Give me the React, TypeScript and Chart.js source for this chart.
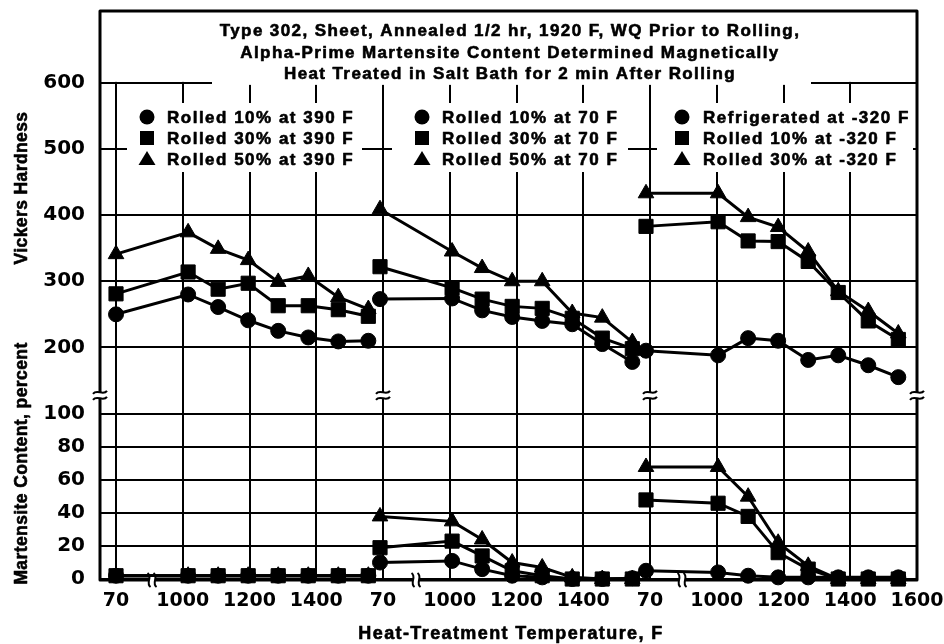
import React, { useEffect, useRef } from "react";
import { Chart, registerables } from "chart.js";

Chart.register(...registerables);

// ---------------- data ----------------
const temps = [70, 1000, 1100, 1200, 1300, 1400, 1500, 1600];

// Vickers hardness
const hvRolled10at390 = [250, 280, 261, 241, 225, 215, 209, 210];
const hvRolled30at390 = [281, 314, 288, 297, 263, 263, 257, 247];
const hvRolled50at390 = [341, 374, 349, 332, 299, 308, 276, 258];
const hvRolled10at70 = [273, 274, 256, 246, 240, 235, 205, 178];
const hvRolled30at70 = [322, 290, 273, 262, 259, 244, 214, 198];
const hvRolled50at70 = [409, 345, 320, 300, 300, 252, 245, 208];
const hvRefrigerated320 = [195, 188, 214, 210, 181, 188, 173, 155];
const hvRolled10at320 = [383, 390, 361, 360, 330, 283, 240, 212];
const hvRolled30at320 = [433, 433, 397, 382, 345, 285, 255, 221];

// Martensite content, percent
const msRolled10at390 = [2, 2, 2, 2, 2, 2, 2, 2];
const msRolled30at390 = [2, 2, 2, 2, 2, 2, 2, 2];
const msRolled50at390 = [2, 2, 2, 2, 2, 2, 2, 2];
const msRolled10at70 = [10, 11, 6, 2, 1, 0, 0, 0.5];
const msRolled30at70 = [19, 23, 14, 5, 2, 0, 0, 0];
const msRolled50at70 = [38, 35, 24, 10, 7, 1, 0, 0];
const msRefrigerated320 = [5, 4, 2, 1, 1, 1, 1, 1];
const msRolled10at320 = [48, 46, 38, 16, 6, 0, 0, 0];
const msRolled30at320 = [68, 68, 50, 22, 8, 0, 0, 0];

const xTickLabels = ["70", "1000", "1200", "1400", "70", "1000", "1200", "1400", "70", "1000", "1200", "1400", "1600"];
const hvTicks = [200, 300, 400, 500, 600];
const msTicks = [0, 20, 40, 60, 80, 100];

const titleLines = [
  "Type 302, Sheet, Annealed 1/2 hr, 1920 F, WQ Prior to Rolling,",
  "Alpha-Prime Martensite Content Determined Magnetically",
  "Heat Treated in Salt Bath for 2 min After Rolling",
];
const legendLabels = [
  ["Rolled 10% at 390 F", "Rolled 30% at 390 F", "Rolled 50% at 390 F"],
  ["Rolled 10% at 70 F", "Rolled 30% at 70 F", "Rolled 50% at 70 F"],
  ["Refrigerated at -320 F", "Rolled 10% at -320 F", "Rolled 30% at -320 F"],
];

// ---------------- layout helpers ----------------
const GROUP_START = [0, 3.955, 7.94];
const pos = (g: number, t: number) => GROUP_START[g] + (t === 70 ? 0 : 1.08 + (t - 1000) * 0.0045);

const groups = [
  { hv: [hvRolled10at390, hvRolled30at390, hvRolled50at390], ms: [msRolled10at390, msRolled30at390, msRolled50at390] },
  { hv: [hvRolled10at70, hvRolled30at70, hvRolled50at70], ms: [msRolled10at70, msRolled30at70, msRolled50at70] },
  { hv: [hvRefrigerated320, hvRolled10at320, hvRolled30at320], ms: [msRefrigerated320, msRolled10at320, msRolled30at320] },
];
const pointStyles = ["circle", "rect", "triangle"];
const pointRadii = [7.5, 10, 9];
const drawOrder = [2, 0, 1];

const legendLayout = [
  { markerX: 147, textX: 167, box: [127, 362] },
  { markerX: 422, textX: 442, box: [392, 628] },
  { markerX: 682, textX: 703, box: [657, 913] },
];
const legendRows = [117, 138, 159];

function drawMarker(ctx: CanvasRenderingContext2D, style: string, x: number, y: number) {
  ctx.beginPath();
  if (style === "circle") {
    ctx.arc(x, y, 7.5, 0, Math.PI * 2);
  } else if (style === "rect") {
    ctx.rect(x - 7, y - 7, 14, 14);
  } else {
    ctx.moveTo(x, y - 8);
    ctx.lineTo(x - 8.5, y + 6);
    ctx.lineTo(x + 8.5, y + 6);
    ctx.closePath();
  }
  ctx.fill();
}

function boldText(ctx: CanvasRenderingContext2D, text: string, x: number, y: number) {
  ctx.fillText(text, x, y);
  ctx.strokeText(text, x, y);
}

function vBreak(ctx: CanvasRenderingContext2D, x: number, y: number) {
  ctx.fillStyle = "#fff";
  ctx.fillRect(x - 3, y - 3, 6, 6);
  ctx.strokeStyle = "#000";
  ctx.lineWidth = 2;
  for (const dy of [-3, 3]) {
    ctx.beginPath();
    ctx.moveTo(x - 7, y + dy + 1.5);
    ctx.bezierCurveTo(x - 3, y + dy - 4, x + 3, y + dy + 4, x + 7, y + dy - 1.5);
    ctx.stroke();
  }
}

function hBreak(ctx: CanvasRenderingContext2D, x: number, y: number) {
  ctx.fillStyle = "#fff";
  ctx.fillRect(x - 3, y - 3, 6, 6);
  ctx.strokeStyle = "#000";
  ctx.lineWidth = 2;
  for (const dx of [-3, 3]) {
    ctx.beginPath();
    ctx.moveTo(x + dx - 1.5, y - 7);
    ctx.bezierCurveTo(x + dx + 4, y - 3, x + dx - 4, y + 3, x + dx + 1.5, y + 7);
    ctx.stroke();
  }
}

const decor = {
  id: "decor",
  beforeDatasetsDraw(chart: any) {
    const { ctx, chartArea: a, scales } = chart;
    const y600 = scales.yH.getPixelForValue(600);
    ctx.save();
    ctx.fillStyle = "#fff";
    ctx.fillRect(a.left, a.top, a.right - a.left, y600 - 1 - a.top);
    ctx.fillRect(212, a.top, 811 - 212, y600 + 2 - a.top);
    for (const l of legendLayout) {
      ctx.fillRect(l.box[0], 103, l.box[1] - l.box[0], 172 - 103);
    }
    ctx.restore();
  },
  afterDatasetsDraw(chart: any) {
    const { ctx, chartArea: a, scales } = chart;
    const x = scales.x;
    const yH = scales.yH;
    ctx.save();
    ctx.fillStyle = "#000";
    ctx.strokeStyle = "#000";
    ctx.lineWidth = 0.6;
    ctx.lineJoin = "round";
    ctx.textBaseline = "alphabetic";
    // title
    ctx.font = 'bold 17px "Liberation Sans"';
    (ctx as any).letterSpacing = "1.4px";
    ctx.textAlign = "center";
    const titleBase = [35.5, 57.5, 79];
    titleLines.forEach((t, i) => boldText(ctx, t, 510, titleBase[i]));
    // legends
    (ctx as any).letterSpacing = "1.5px";
    ctx.textAlign = "left";
    legendLabels.forEach((labels, gi) => {
      const l = legendLayout[gi];
      labels.forEach((lab, ri) => {
        const yc = legendRows[ri];
        drawMarker(ctx, pointStyles[ri], l.markerX, yc);
        ctx.font = 'bold 17px "Liberation Sans"';
        boldText(ctx, lab, l.textX, yc + 6);
      });
    });
    // axis titles
    (ctx as any).letterSpacing = "1.4px";
    ctx.font = 'bold 18px "Liberation Sans"';
    ctx.textAlign = "center";
    boldText(ctx, "Heat-Treatment Temperature, F", 511, 639);
    (ctx as any).letterSpacing = "0.4px";
    ctx.font = 'bold 17.5px "Liberation Sans"';
    ctx.save();
    ctx.translate(27, 188);
    ctx.rotate(-Math.PI / 2);
    boldText(ctx, "Vickers Hardness", 0, 0);
    ctx.restore();
    ctx.save();
    ctx.translate(27, 463.5);
    ctx.rotate(-Math.PI / 2);
    boldText(ctx, "Martensite Content, percent", 0, 0);
    ctx.restore();
    (ctx as any).letterSpacing = "0px";
    // frame
    ctx.strokeStyle = "#000";
    ctx.lineWidth = 3;
    ctx.strokeRect(a.left, a.top, a.right - a.left, a.bottom - a.top);
    // breaks
    const yb = yH.bottom;
    [a.left, x.getPixelForValue(4), x.getPixelForValue(8), a.right].forEach((px: number) => vBreak(ctx, px, yb));
    [0, 1, 2].forEach((g) => {
      const px = (x.getPixelForValue(pos(g, 70)) + x.getPixelForValue(pos(g, 1000))) / 2;
      hBreak(ctx, px, a.bottom);
    });
    ctx.restore();
  },
};

const zeroPad = (s: any) => {
  s.paddingLeft = 0;
  s.paddingRight = 0;
  s.paddingTop = 0;
  s.paddingBottom = 0;
};

export default function App() {
  const ref = useRef<HTMLCanvasElement | null>(null);
  useEffect(() => {
    if (!ref.current) return;
    const datasets: any[] = [];
    for (const axis of ["hv", "ms"]) {
      groups.forEach((grp: any, g) => {
        drawOrder.forEach((s) => {
          const arr = grp[axis][s];
          datasets.push({
            data: temps.map((t, i) => ({ x: pos(g, t), y: arr[i] })),
            yAxisID: axis === "hv" ? "yH" : "yM",
            borderColor: "#000",
            backgroundColor: "#000",
            borderWidth: 3,
            pointStyle: pointStyles[s],
            pointRadius: pointRadii[s],
            pointBorderWidth: 1,
            pointBackgroundColor: "#000",
            pointBorderColor: "#000",
            showLine: true,
            tension: 0,
            clip: false,
          });
        });
      });
    }
    const tickFont = { family: '"DejaVu Sans"', size: 20, weight: "bold" as const };
    const grid = { color: "#000", lineWidth: 2, drawTicks: false };
    const chart = new Chart(ref.current, {
      type: "line",
      data: { datasets },
      options: {
        animation: false,
        responsive: false,
        devicePixelRatio: 1,
        layout: { padding: { top: 10, right: 27, left: 0, bottom: 0 } },
        plugins: { legend: { display: false }, tooltip: { enabled: false }, title: { display: false } },
        scales: {
          x: {
            type: "linear",
            min: -0.24,
            max: 12,
            afterBuildTicks: (s: any) => {
              s.ticks = xTickLabels.map((_, i) => ({ value: i }));
            },
            afterFit: (s: any) => {
              s.height = 64;
              zeroPad(s);
            },
            ticks: {
              autoSkip: false,
              maxRotation: 0,
              padding: 10,
              color: "#000",
              font: { ...tickFont, size: 19 },
              callback: (_v: any, i: number) => xTickLabels[i],
            },
            grid,
            border: { display: false },
          },
          yH: {
            type: "linear",
            position: "left",
            stack: "v",
            stackWeight: 385,
            weight: 2,
            min: 127.5,
            max: 708.7,
            afterBuildTicks: (s: any) => {
              s.ticks = hvTicks.map((v) => ({ value: v }));
            },
            afterFit: (s: any) => {
              s.width = 100;
              zeroPad(s);
            },
            ticks: { autoSkip: false, padding: 15, color: "#000", font: tickFont },
            grid,
            border: { display: false },
          },
          yM: {
            type: "linear",
            position: "left",
            stack: "v",
            stackWeight: 185,
            weight: 1,
            min: -0.6,
            max: 111.5,
            afterBuildTicks: (s: any) => {
              s.ticks = msTicks.map((v) => ({ value: v }));
            },
            afterFit: (s: any) => {
              s.width = 100;
              zeroPad(s);
            },
            ticks: { autoSkip: false, padding: 15, color: "#000", font: tickFont },
            grid,
            border: { display: false },
          },
        },
      } as any,
      plugins: [decor],
    });
    return () => chart.destroy();
  }, []);
  return (
    <div style={{ position: "absolute", left: 0, top: 0, width: 944, height: 644, background: "#fff" }}>
      <canvas ref={ref} width={944} height={644} style={{ display: "block" }} />
    </div>
  );
}
